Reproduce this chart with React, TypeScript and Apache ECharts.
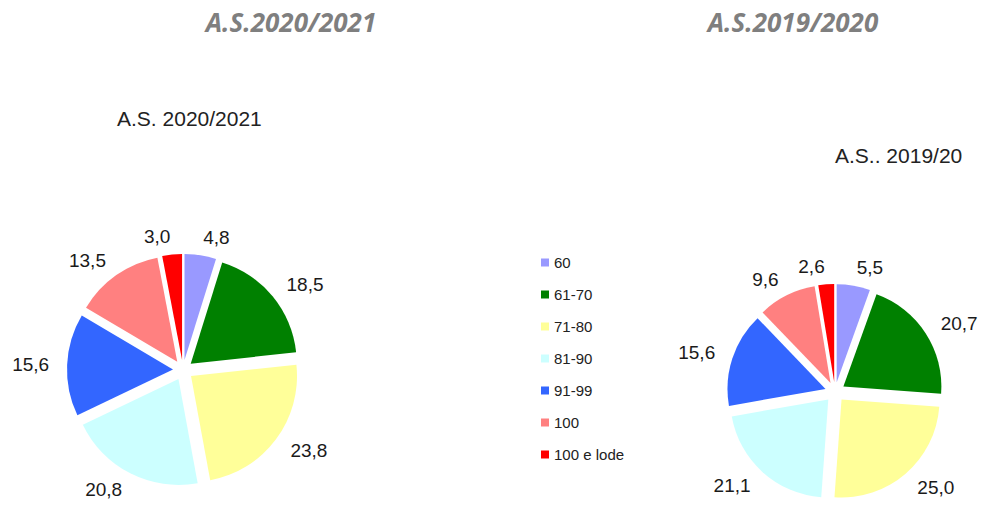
import React, { useEffect, useRef } from "react";
import * as echarts from "echarts";

const categories = ["60", "61-70", "71-80", "81-90", "91-99", "100", "100 e lode"];
const colors = ["#9999ff", "#008000", "#ffff99", "#ccffff", "#3366ff", "#ff8080", "#ff0000"];
const values2021 = [4.8, 18.5, 23.8, 20.8, 15.6, 13.5, 3.0];
const values2020 = [5.5, 20.7, 25.0, 21.1, 15.6, 9.6, 2.6];
const mainTitles = ["A.S.2020/2021", "A.S.2019/2020"];
const subTitles = ["A.S. 2020/2021", "A.S.. 2019/20"];

const fmt = (v: number) => v.toFixed(1).replace(".", ",");

function makePie(values: number[], center: [number, number], radius: number) {
  return {
    type: "pie",
    center,
    radius,
    startAngle: 90,
    clockwise: true,
    selectedMode: "multiple",
    selectedOffset: 10,
    avoidLabelOverlap: false,
    label: {
      show: true,
      position: "outside",
      formatter: (p: any) => fmt(p.value),
      fontFamily: "Liberation Sans, Arial, sans-serif",
      fontSize: 19,
      color: "#1a1a1a",
      distanceToLabelLine: 0,
    },
    labelLine: { show: false, length: 18, length2: 0 },
    itemStyle: { borderWidth: 0 },
    select: { itemStyle: { borderWidth: 0 } },
    emphasis: { disabled: true },
    data: values.map((v, i) => ({
      name: categories[i],
      value: v,
      selected: true,
      itemStyle: { color: colors[i] },
    })),
  };
}

const titleStyle = {
  fontFamily: "Open Sans",
  fontWeight: "bold",
  fontStyle: "italic",
  fontSize: 26,
  fill: "#7f7f7f",
  textAlign: "center",
  textVerticalAlign: "middle",
};

const subStyle = {
  fontFamily: "Liberation Sans, Arial, sans-serif",
  fontSize: 21,
  fill: "#222222",
  textAlign: "left",
  textVerticalAlign: "middle",
};

export default function App() {
  const ref = useRef<HTMLDivElement>(null);
  useEffect(() => {
    if (!ref.current) return;
    const chart = echarts.init(ref.current, undefined, { renderer: "svg" });
    chart.setOption({
      animation: false,
      backgroundColor: "#ffffff",
      legend: {
        orient: "vertical",
        left: 536,
        top: 250,
        icon: "rect",
        itemWidth: 8,
        itemHeight: 8,
        itemGap: 17,
        selectedMode: false,
        data: categories,
        textStyle: {
          fontFamily: "Liberation Sans, Arial, sans-serif",
          fontSize: 15,
          color: "#222222",
        },
      },
      graphic: [
        { type: "text", x: 291, y: 22, style: { ...titleStyle, text: mainTitles[0] } },
        { type: "text", x: 793, y: 22, style: { ...titleStyle, text: mainTitles[1] } },
        { type: "text", x: 117, y: 118, style: { ...subStyle, text: subTitles[0] } },
        { type: "text", x: 835, y: 155, style: { ...subStyle, text: subTitles[1] } },
      ],
      series: [
        makePie(values2021, [183, 370], 106),
        makePie(values2020, [835, 392], 98),
      ],
    });
    return () => chart.dispose();
  }, []);
  return (
    <div
      ref={ref}
      style={{ position: "absolute", left: 0, top: 0, width: 1000, height: 509 }}
    />
  );
}
